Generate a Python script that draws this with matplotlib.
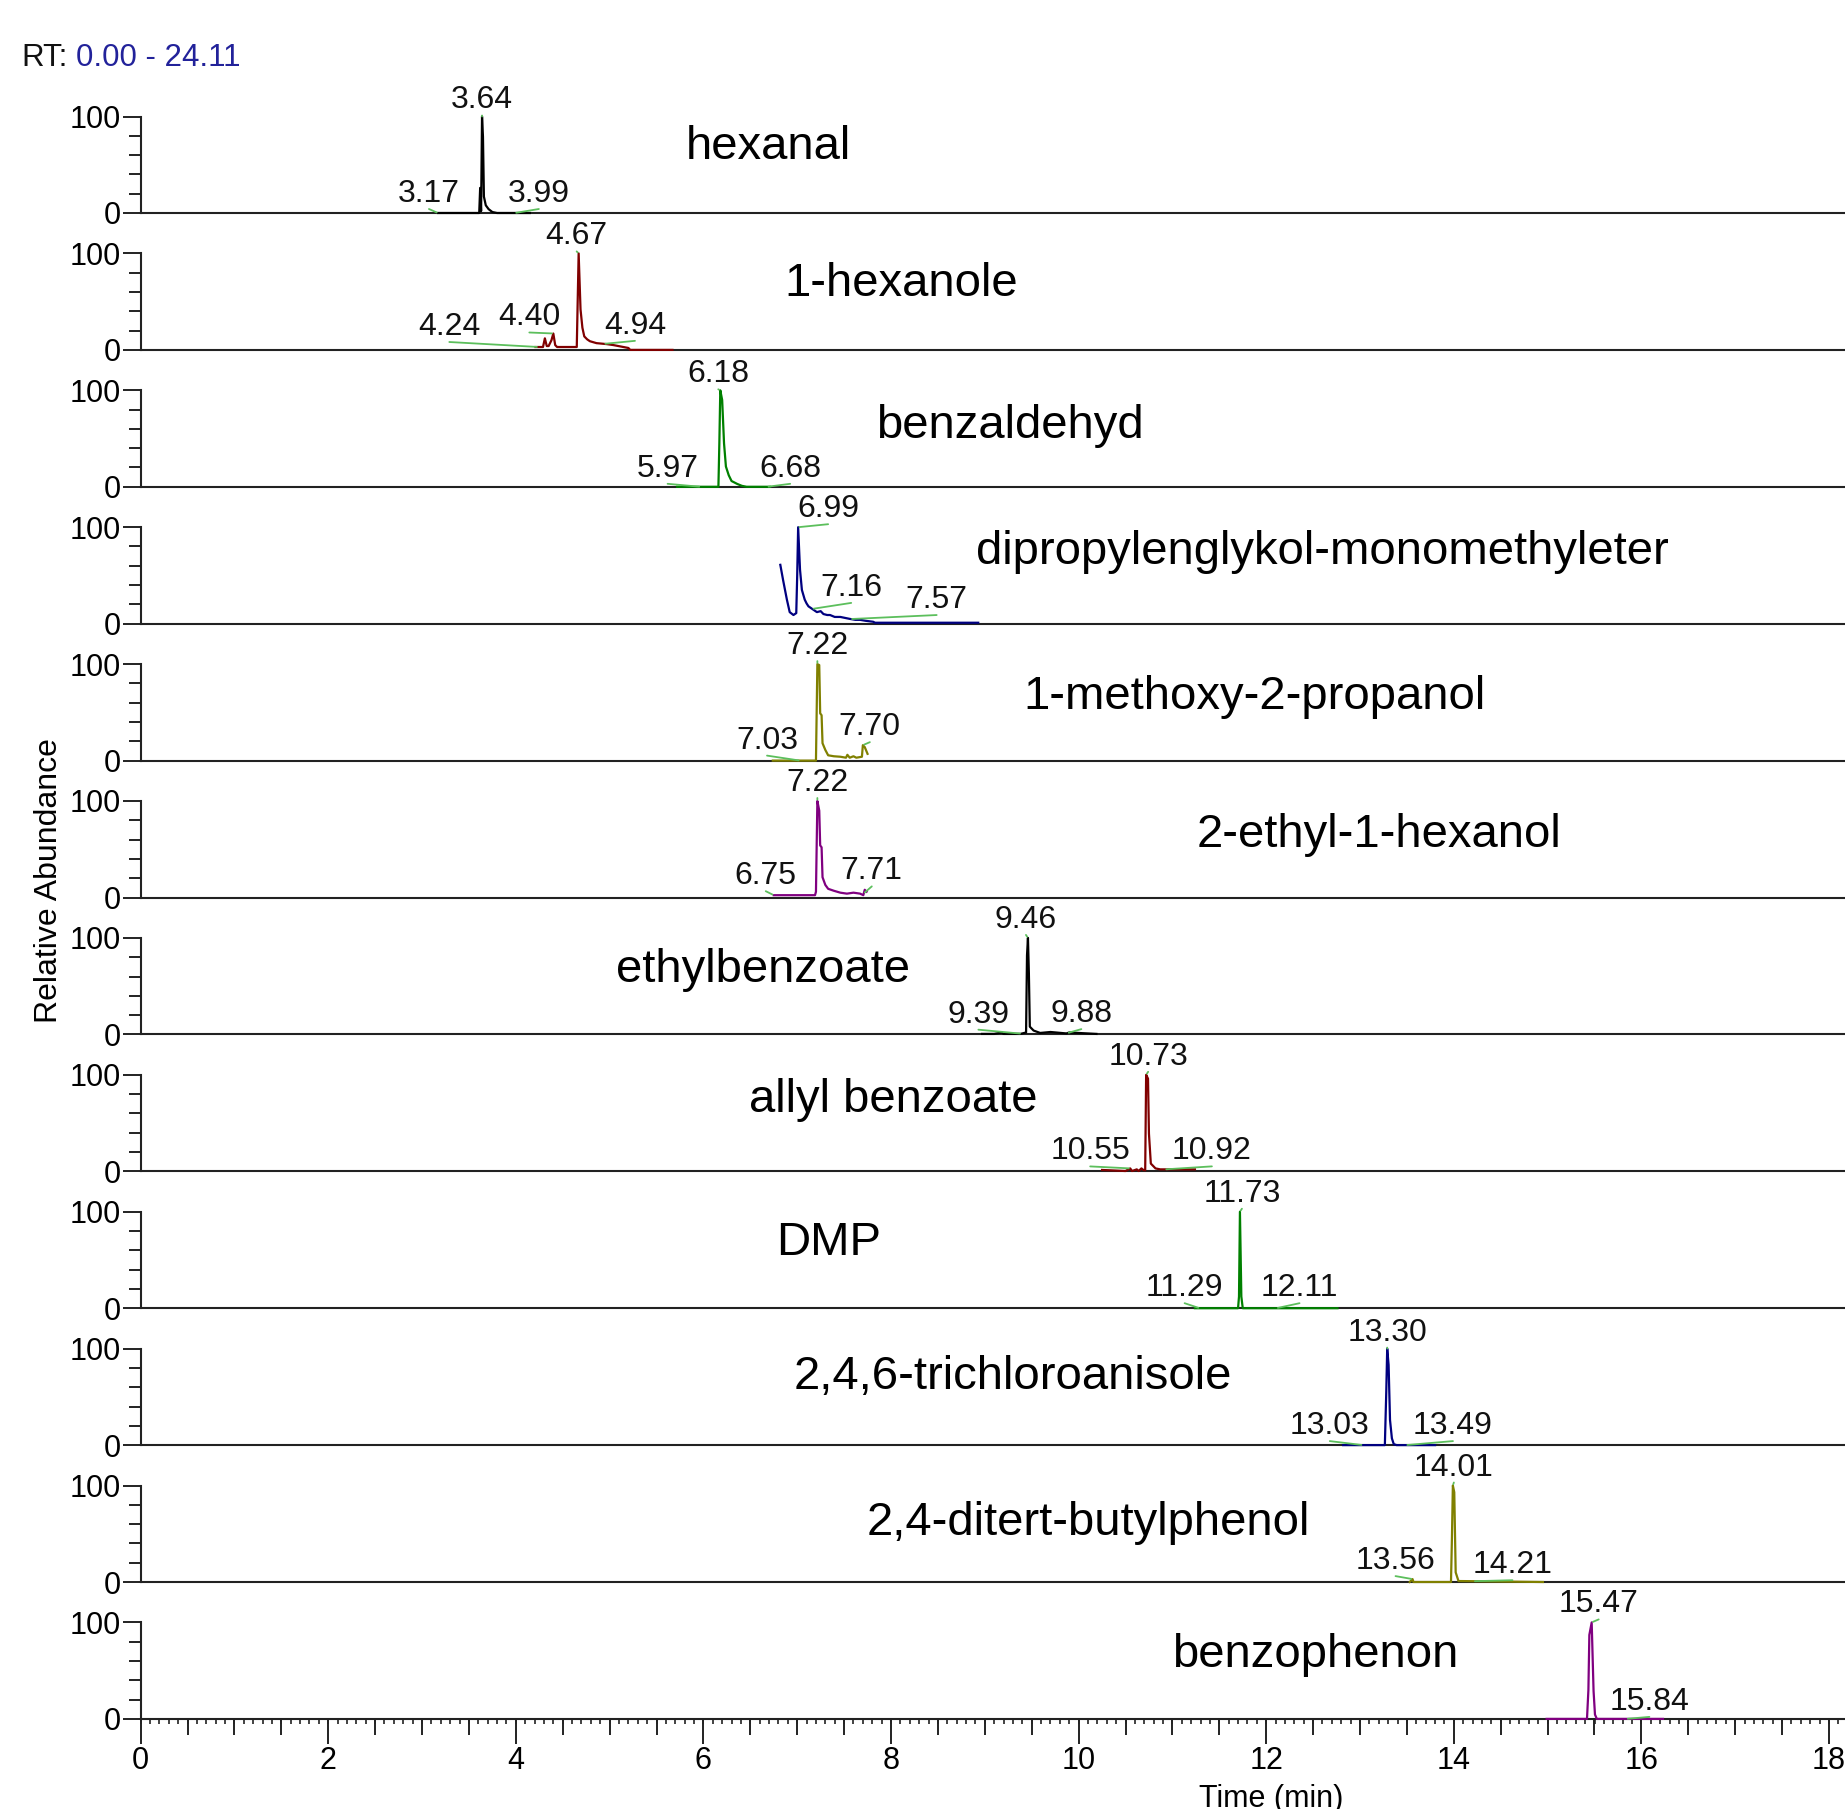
import matplotlib
matplotlib.use('Agg')
import matplotlib.pyplot as plt
import numpy as np
from matplotlib.ticker import MultipleLocator, FixedLocator

plt.rcParams['font.family'] = ['Liberation Sans', 'DejaVu Sans']

# compound names, one panel each
names = ['hexanal', '1-hexanole', 'benzaldehyd', 'dipropylenglykol-monomethyleter',
         '1-methoxy-2-propanol', '2-ethyl-1-hexanol', 'ethylbenzoate', 'allyl benzoate',
         'DMP', '2,4,6-trichloroanisole', '2,4-ditert-butylphenol', 'benzophenon']

# traces (retention time in min, relative abundance in %)
hexanal_rt = [3.17, 3.61, 3.62, 3.63, 3.64, 3.65, 3.66, 3.68, 3.71, 3.75, 3.80, 4.15]
hexanal_ab = [0, 0, 26, 2, 100, 79, 17, 8, 4, 1, 0, 0]

hexanole_rt = [4.21, 4.29, 4.31, 4.33, 4.35, 4.38, 4.40, 4.42, 4.44, 4.65, 4.67, 4.69,
               4.71, 4.73, 4.76, 4.79, 4.86, 4.97, 5.04, 5.20, 5.22, 5.67]
hexanole_ab = [3, 3, 12, 4, 4, 10, 17, 5, 3, 3, 100, 42, 23, 14, 11, 9, 7, 6, 5, 2, 0, 0]

benzaldehyd_rt = [5.72, 6.16, 6.17, 6.18, 6.20, 6.22, 6.24, 6.27, 6.30, 6.36, 6.41, 6.46, 6.71]
benzaldehyd_ab = [0, 0, 45, 100, 90, 45, 21, 12, 6, 3, 1, 0, 0]

dpgme_rt = [6.82, 6.85, 6.89, 6.92, 6.96, 6.99, 7.00, 7.01, 7.03, 7.05, 7.08, 7.10, 7.12,
            7.15, 7.18, 7.21, 7.25, 7.28, 7.32, 7.35, 7.40, 7.46, 7.51, 7.56, 7.62, 7.67,
            7.73, 7.81, 7.83, 8.93]
dpgme_ab = [61, 45, 25, 12, 9, 11, 50, 100, 56, 35, 25, 21, 18, 16, 14, 12, 13, 10, 9, 9,
            7, 7, 6, 5, 4, 4, 3, 2, 1, 1]

methoxy_rt = [6.74, 7.20, 7.215, 7.235, 7.245, 7.26, 7.27, 7.30, 7.33, 7.39, 7.46, 7.52,
              7.535, 7.56, 7.60, 7.63, 7.69, 7.70, 7.72, 7.75]
methoxy_ab = [0, 0, 100, 99, 49, 47, 18, 11, 5.5, 4.5, 4, 3, 6, 3, 4.5, 3, 4, 16, 14, 7]

ethylhexanol_rt = [6.75, 7.19, 7.20, 7.215, 7.235, 7.245, 7.26, 7.27, 7.30, 7.33, 7.39,
                   7.46, 7.53, 7.60, 7.67, 7.705, 7.72, 7.74]
ethylhexanol_ab = [2.4, 2.4, 6, 100, 90, 54, 52, 21, 13, 9, 7, 5, 4, 5, 4, 2.4, 8, 6]

ethylbenzoate_rt = [8.97, 9.10, 9.18, 9.20, 9.38, 9.44, 9.45, 9.46, 9.47, 9.48, 9.52, 9.59,
                    9.70, 9.87, 9.90, 10.19]
ethylbenzoate_ab = [0.5, 0.5, 2, 0.5, 0.5, 2, 82, 100, 63, 8, 4, 1.5, 2.5, 1, 2, 0.5]

allyl_rt = [10.25, 10.50, 10.55, 10.57, 10.62, 10.64, 10.67, 10.69, 10.71, 10.72, 10.74,
            10.75, 10.77, 10.82, 10.87, 11.24]
allyl_ab = [1.4, 0.3, 3, 0.3, 2, 0.3, 3, 1.4, 1, 100, 96, 39, 8, 3, 2, 2]

dmp_rt = [11.24, 11.70, 11.71, 11.72, 11.735, 11.75, 12.76]
dmp_ab = [0, 0, 12, 100, 12, 0, 0]

tca_rt = [12.82, 13.265, 13.28, 13.29, 13.305, 13.32, 13.34, 13.36, 13.39, 13.80]
tca_ab = [0, 0, 55, 100, 83, 26, 7, 1, 0, 0]

ditert_rt = [13.53, 13.56, 13.57, 13.97, 13.98, 13.99, 14.005, 14.02, 14.05, 14.95]
ditert_ab = [0, 3, 0, 0, 45, 100, 93, 10, 1, 0]

benzophenon_rt = [14.99, 15.42, 15.435, 15.445, 15.47, 15.49, 15.505, 15.525, 16.23]
benzophenon_ab = [0, 0, 30, 87, 100, 29, 4.5, 0, 0]

traces = [(hexanal_rt, hexanal_ab), (hexanole_rt, hexanole_ab),
          (benzaldehyd_rt, benzaldehyd_ab), (dpgme_rt, dpgme_ab),
          (methoxy_rt, methoxy_ab), (ethylhexanol_rt, ethylhexanol_ab),
          (ethylbenzoate_rt, ethylbenzoate_ab), (allyl_rt, allyl_ab),
          (dmp_rt, dmp_ab), (tca_rt, tca_ab), (ditert_rt, ditert_ab),
          (benzophenon_rt, benzophenon_ab)]

# RT labels, the first one of each panel is the apex
peak_labels = [[3.64, 3.17, 3.99], [4.67, 4.24, 4.40, 4.94], [6.18, 5.97, 6.68],
               [6.99, 7.16, 7.57], [7.22, 7.03, 7.70], [7.22, 6.75, 7.71],
               [9.46, 9.39, 9.88], [10.73, 10.55, 10.92], [11.73, 11.29, 12.11],
               [13.30, 13.03, 13.49], [14.01, 13.56, 14.21], [15.47, 15.84]]

# layout / style
colors = ['#000000', '#800000', '#008000', '#000080', '#808000', '#800080'] * 2
label_offsets = [[(0, 8), (-9, 11), (24, 11)],
                 [(-2, 9), (-89, 12), (-24, 8), (31, 10)],
                 [(-2, 8), (-33, 10), (23, 10)],
                 [(30, 10), (39, 13), (86, 11)],
                 [(0, 10), (-33, 12), (7, 10)],
                 [(0, 10), (-8, 11), (8, 14)],
                 [(-2, 10), (-43, 11), (14, 11)],
                 [(2, 10), (-40, 9), (47, 10)],
                 [(2, 10), (-15, 12), (23, 12)],
                 [(0, 8), (-33, 11), (47, 11)],
                 [(1, 10), (-17, 10), (39, 8)],
                 [(7, 10), (23, 9)]]
name_pos = [(6.69, 68), (8.11, 68), (9.27, 63), (12.6, 74), (11.87, 66), (13.2, 65),
            (6.64, 67), (8.02, 74), (7.33, 68), (9.3, 71), (10.1, 61), (12.52, 66)]

W, H = 1845, 1809
x0_px, px_per_min, xmax = 140.6, 93.8, 24.11
top0, step, span = 213, 136.9, 96.5
axis_col = '#222222'

fig = plt.figure(figsize=(W / 100, H / 100), dpi=100)

axes = []
for i, (rt, ab) in enumerate(traces):
    base = top0 + step * i
    ax = fig.add_axes([x0_px / W, 1 - base / H, xmax * px_per_min / W, span / H])
    axes.append(ax)
    ax.plot(rt, ab, color=colors[i], lw=1.6, clip_on=False, zorder=3)
    ax.set_xlim(0, xmax)
    ax.set_ylim(0, 100)

    for s in ['top', 'right']:
        ax.spines[s].set_visible(False)
    for s in ['left', 'bottom']:
        ax.spines[s].set_color(axis_col)
        ax.spines[s].set_linewidth(1.5)

    ax.set_yticks([0, 100])
    ax.yaxis.set_minor_locator(FixedLocator([20, 40, 60, 80]))
    ax.tick_params(axis='y', which='major', length=13, width=1.4, pad=1,
                   labelsize=22, color=axis_col)
    ax.tick_params(axis='y', which='minor', length=8.5, width=1.4, color=axis_col)

    if i < len(traces) - 1:
        ax.tick_params(axis='x', which='both', bottom=False, labelbottom=False)
    else:
        ax.xaxis.set_major_locator(MultipleLocator(2))
        ax.xaxis.set_minor_locator(MultipleLocator(0.5))
        ax.tick_params(axis='x', which='major', length=18, width=1.4, pad=1.5,
                       labelsize=22, color=axis_col)
        ax.tick_params(axis='x', which='minor', length=11.5, width=1.4, color=axis_col)
        sec = ax.secondary_xaxis('bottom')
        sec.xaxis.set_major_locator(MultipleLocator(0.1))
        sec.tick_params(axis='x', length=3.6, width=1.2, labelbottom=False, color=axis_col)
        sec.spines['bottom'].set_visible(False)
        ax.set_xlabel('Time (min)', fontsize=22, labelpad=6)

    # compound name
    nx, ny = name_pos[i]
    ax.text(nx, ny, names[i], fontsize=34, ha='center', va='center')

    # RT labels with green leaders
    for j, lab in enumerate(peak_labels[i]):
        if j == 0:
            k = int(np.argmax(ab))
            px, py = rt[k], ab[k]
        else:
            px, py = lab, np.interp(lab, rt, ab)
        dx, dy = label_offsets[i][j]
        ax.annotate(f'{lab:.2f}', xy=(px, py), xytext=(dx, dy),
                    textcoords='offset pixels', ha='center', va='baseline',
                    fontsize=23, color='#111111', zorder=4,
                    arrowprops=dict(arrowstyle='-', color='#5cbf5c', lw=1.3,
                                    shrinkA=0, shrinkB=1, patchA=None,
                                    relpos=(0.5, 0)))

fig.text(49 / W, 1 - 881 / H, 'Relative Abundance', rotation=90,
         ha='center', va='center', fontsize=23)

t1 = fig.text(21 / W, 1 - 58 / H, 'RT:', ha='left', va='center', fontsize=22.5,
              color='#111111')
axes[0].annotate('0.00 - 24.11', xy=(1, 0.5), xycoords=t1, xytext=(9, 0),
                 textcoords='offset pixels', ha='left', va='center',
                 fontsize=22.5, color='#22229a')

fig.savefig('out.png', dpi=100)
